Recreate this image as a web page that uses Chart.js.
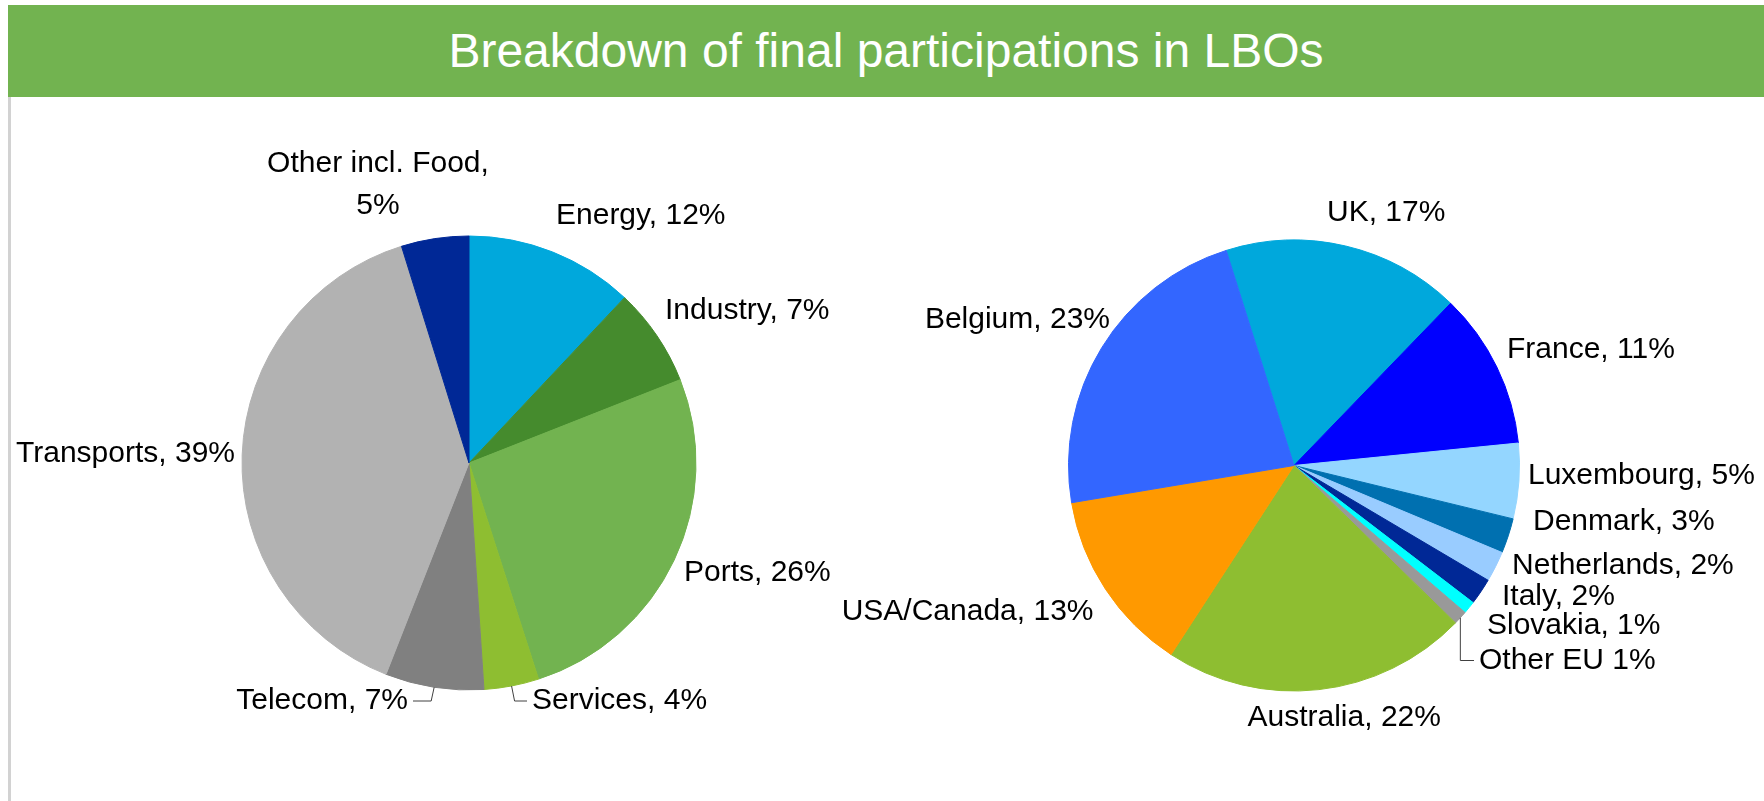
<!DOCTYPE html>
<html>
<head>
<meta charset="utf-8">
<title>Breakdown of final participations in LBOs</title>
<script src="https://cdn.jsdelivr.net/npm/chart.js@4"></script>
<style>
  body { margin: 0; background: #fff; width: 1764px; height: 801px; overflow: hidden; position: relative; font-family: "Liberation Sans", Arial, sans-serif; }
  #header { position: absolute; left: 8px; top: 5px; width: 1756px; height: 92px; background: #72B350; color: #fff; font-size: 48px; line-height: 92px; text-align: center; }
  #frame { position: absolute; left: 8px; top: 97px; width: 3px; height: 704px; background: #D2D2D2; }
  #sectorPie { position: absolute; left: 0; top: 97px; }
  #countryPie { position: absolute; left: 800px; top: 97px; }
</style>
</head>
<body>
<div id="header">Breakdown of final participations in LBOs</div>
<div id="frame"></div>
<canvas id="sectorPie" width="880" height="704"></canvas>
<canvas id="countryPie" width="964" height="704"></canvas>
<script>
// --- data ---
const sectorNames = ['Energy', 'Industry', 'Ports', 'Services', 'Telecom', 'Transports', 'Other incl. Food'];
const sectorShares = [12, 7, 26, 3.9, 7, 39.2, 4.8];
const sectorColors = ['#00A8DC', '#458B2D', '#72B350', '#8EBE31', '#808080', '#B2B2B2', '#002896'];

const countryNames = ['UK', 'France', 'Luxembourg', 'Denmark', 'Netherlands', 'Italy', 'Slovakia', 'Other EU', 'Australia', 'USA/Canada', 'Belgium'];
const countryShares = [17.1, 11.2, 5.4, 2.5, 2.2, 1.9, 0.9, 1.0, 21.9, 13.2, 22.8];
const countryColors = ['#00A8DC', '#0000FF', '#94D6FF', '#0070B0', '#99CCFF', '#002896', '#00FFFF', '#999999', '#8EBE31', '#FF9900', '#3366FF'];

// --- label placement (offset from pie centre, baseline of text) ---
const sectorLabelSpots = [
    { dx: 87, dy: -239, align: 'left' },
    { dx: 196, dy: -144, align: 'left' },
    { dx: 215, dy: 118, align: 'left' },
    { dx: 63, dy: 246, align: 'left', leader: true },
    { dx: -61, dy: 246, align: 'right', leader: true },
    { dx: -234, dy: -1, align: 'right' },
    { dx: -91, dy: -291.5, align: 'center', wrap: true }
];
const countryLabelSpots = [
    { dx: 33, dy: -245, align: 'left' },
    { dx: 213, dy: -107.5, align: 'left' },
    { dx: 234, dy: 18, align: 'left' },
    { dx: 239, dy: 64, align: 'left' },
    { dx: 218, dy: 108, align: 'left' },
    { dx: 208, dy: 139.5, align: 'left' },
    { dx: 193, dy: 168, align: 'left' },
    { dx: 185, dy: 203, align: 'left', leader: true, bend: 0, sep: ' ' },
    { dx: -46.5, dy: 260.5, align: 'center-left' },
    { dx: -200.5, dy: 154.5, align: 'right' },
    { dx: -184, dy: -138, align: 'right' }
];

// draws "Name, xx%" next to every slice, with elbow leaders where needed
const sliceLabels = {
    id: 'sliceLabels',
    afterDatasetsDraw(chart, args, opts) {
        const ctx = chart.ctx;
        const meta = chart.getDatasetMeta(0);
        const names = chart.data.labels;
        const vals = chart.data.datasets[0].data;
        ctx.save();
        ctx.font = '30px "Liberation Sans", Arial, sans-serif';
        ctx.fillStyle = '#000';
        ctx.textBaseline = 'alphabetic';
        meta.data.forEach((arc, i) => {
            const sp = opts.spots[i];
            const pct = Math.round(vals[i]) + '%';
            const x = arc.x + sp.dx;
            const y = arc.y + sp.dy;
            if (sp.wrap) {
                ctx.textAlign = 'center';
                ctx.fillText(names[i] + ',', x, y);
                ctx.fillText(pct, x, y + 42.5);
            } else {
                ctx.textAlign = sp.align === 'center-left' ? 'left' : sp.align;
                ctx.fillText(names[i] + (sp.sep || ', ') + pct, x, y);
            }
            if (sp.leader) {
                const mid = (arc.startAngle + arc.endAngle) / 2;
                const sx = arc.x + Math.cos(mid) * arc.outerRadius;
                const sy = arc.y + Math.sin(mid) * arc.outerRadius;
                const dir = sp.align === 'right' ? -1 : 1;
                const bend = sp.bend === undefined ? 3 : sp.bend;
                const ly = y - 8;
                ctx.beginPath();
                ctx.strokeStyle = '#404040';
                ctx.lineWidth = 1;
                ctx.moveTo(sx, sy);
                ctx.lineTo(sx + dir * bend, ly);
                ctx.lineTo(x - dir * 5, ly);
                ctx.stroke();
            }
        });
        ctx.restore();
    }
};

function makePie(id, names, shares, colors, spots, radius, rotation, padding) {
    return new Chart(document.getElementById(id), {
        type: 'pie',
        data: {
            labels: names,
            datasets: [{
                data: shares,
                backgroundColor: colors,
                borderColor: colors,
                borderWidth: 1
            }]
        },
        options: {
            responsive: false,
            animation: false,
            radius: radius,
            rotation: rotation,
            layout: { padding: padding },
            plugins: {
                legend: { display: false },
                tooltip: { enabled: false },
                sliceLabels: { spots: spots }
            }
        },
        plugins: [sliceLabels]
    });
}

makePie('sectorPie', sectorNames, sectorShares, sectorColors, sectorLabelSpots, 227, 0,
    { left: 242, right: 184, top: 139, bottom: 111 });
makePie('countryPie', countryNames, countryShares, countryColors, countryLabelSpots, 225.5, -17.5,
    { left: 268.5, right: 244.5, top: 143, bottom: 110 });
</script>
</body>
</html>
